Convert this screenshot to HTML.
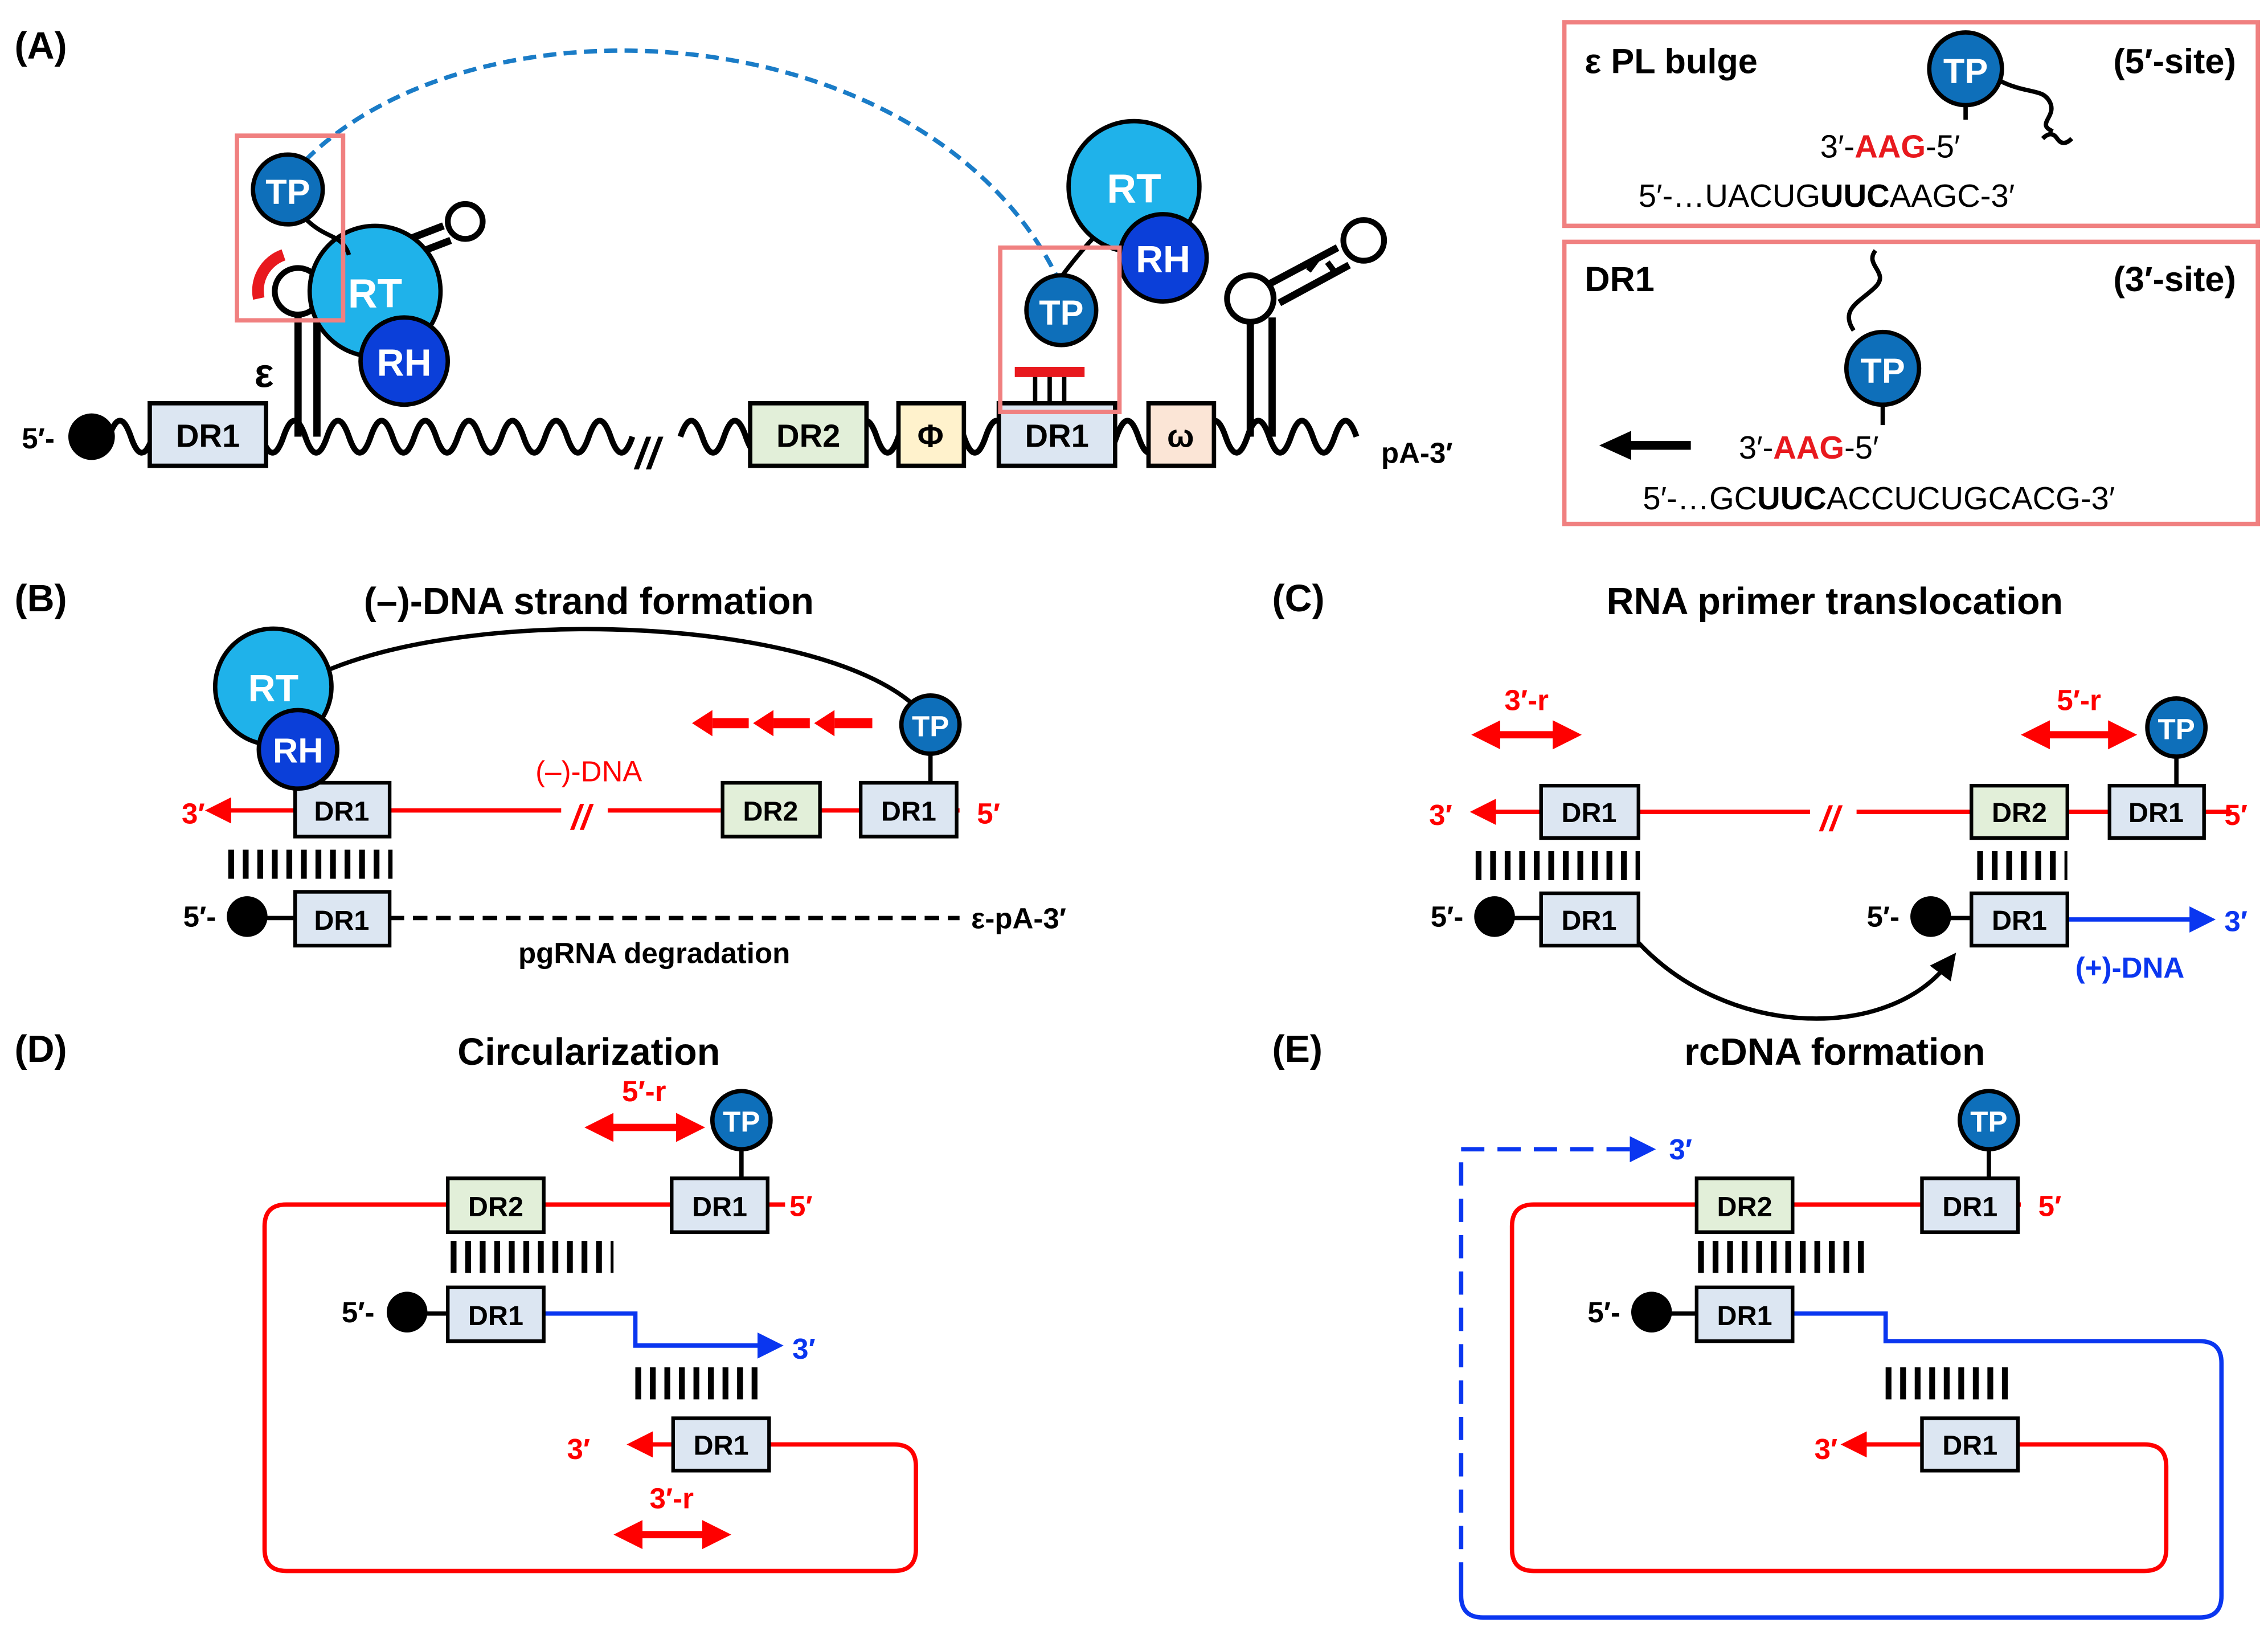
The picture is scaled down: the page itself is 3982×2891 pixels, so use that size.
<!DOCTYPE html>
<html><head><meta charset="utf-8"><style>
html,body{margin:0;padding:0;background:#fff}
svg{display:block}
text{font-family:"Liberation Sans",Arial,sans-serif}
.b{font-weight:bold}
</style></head><body>
<svg width="3982" height="2891" viewBox="0 0 1560 1132" xmlns="http://www.w3.org/2000/svg">
<defs>
<marker id="ar" markerWidth="6" markerHeight="6" refX="3" refY="3" orient="auto" markerUnits="strokeWidth"><path d="M0,0 L6,3 L0,6z" fill="red"/></marker>
<marker id="ab" markerWidth="6" markerHeight="6" refX="3" refY="3" orient="auto" markerUnits="strokeWidth"><path d="M0,0 L6,3 L0,6z" fill="#0a36f0"/></marker>
<marker id="ak" markerWidth="6" markerHeight="6" refX="3" refY="3" orient="auto" markerUnits="strokeWidth"><path d="M0,0 L6,3 L0,6z" fill="#000"/></marker>
<marker id="ar2" markerWidth="4" markerHeight="4" refX="2" refY="2" orient="auto-start-reverse" markerUnits="strokeWidth"><path d="M0,0 L4,2 L0,4z" fill="red"/></marker>
</defs>
<g font-weight="bold" font-size="26" fill="#000">
<text x="10" y="40">(A)</text><text x="10" y="420">(B)</text><text x="875" y="420">(C)</text>
<text x="10" y="730">(D)</text><text x="875" y="730">(E)</text>
<text x="405" y="422" text-anchor="middle">(–)-DNA strand formation</text>
<text x="1262" y="422" text-anchor="middle">RNA primer translocation</text>
<text x="405" y="732" text-anchor="middle">Circularization</text>
<text x="1262" y="732" text-anchor="middle">rcDNA formation</text>
</g>

<!-- Panel A -->
<path d="M210,110 C330,-10 640,10 728,192" fill="none" stroke="#1a7cc7" stroke-width="3" stroke-dasharray="9 5"/>
<path d="M75,300 q7.5,-22 15,0 t15,0 t15,0 t15,0 t15,0 t15,0 t15,0 t15,0 t15,0 t15,0 t15,0 t15,0 t15,0 t15,0 t15,0 t15,0 t15,0 t15,0 t15,0 t15,0 t15,0 t15,0 t15,0 t15,0" fill="none" stroke="#000" stroke-width="4"/>
<path d="M468,300 q7.5,-22 15,0 t15,0 t15,0 t15,0 t15,0 t15,0 t15,0 t15,0 t15,0 t15,0 t15,0 t15,0 t15,0 t15,0 t15,0 t15,0 t15,0 t15,0 t15,0 t15,0 t15,0 t15,0 t15,0 t15,0 t15,0 t15,0 t15,0 t15,0 t15,0 t15,0 t15,0" fill="none" stroke="#000" stroke-width="4"/>
<text x="437" y="322" font-size="30" font-weight="bold" font-style="italic">//</text>
<circle cx="63" cy="300" r="16" fill="#000"/>
<text x="15" y="308" font-size="20" class="b">5′-</text>
<text x="950" y="318" font-size="20" class="b">pA-3′</text>
<path d="M205,300 V215 M218,300 V215" stroke="#000" stroke-width="5"/>
<circle cx="205" cy="200" r="16" fill="#fff" stroke="#000" stroke-width="4"/>
<path d="M178,205 A26,26 0 0 1 195,175" fill="none" stroke="#e8191e" stroke-width="8"/>
<path d="M240,180 L305,155 M245,190 L310,165" stroke="#000" stroke-width="5"/>
<circle cx="320" cy="152" r="12" fill="#fff" stroke="#000" stroke-width="4"/>
<text x="175" y="266" font-size="28" class="b">ε</text>
<circle cx="258" cy="200" r="45" fill="#1fb2ea" stroke="#000" stroke-width="3"/>
<text x="258" y="211" font-size="28" fill="#fff" class="b" text-anchor="middle">RT</text>
<circle cx="278" cy="248" r="30" fill="#0b3fd9" stroke="#000" stroke-width="3"/>
<text x="278" y="258" font-size="26" fill="#fff" class="b" text-anchor="middle">RH</text>
<path d="M210,150 C225,165 235,160 240,175" fill="none" stroke="#000" stroke-width="3"/>
<circle cx="198" cy="130" r="24" fill="#0e6fba" stroke="#000" stroke-width="3"/>
<text x="198" y="140" font-size="24" fill="#fff" class="b" text-anchor="middle">TP</text>
<rect x="163" y="93" width="73" height="127" fill="none" stroke="#f08080" stroke-width="3"/>
<path d="M860,300 V218 M875,300 V218" stroke="#000" stroke-width="5"/>
<circle cx="860" cy="205" r="16" fill="#fff" stroke="#000" stroke-width="4"/>
<path d="M873,195 L920,170 M880,208 L928,182" stroke="#000" stroke-width="5"/>
<circle cx="938" cy="165" r="14" fill="#fff" stroke="#000" stroke-width="4"/>
<path d="M900,186 l6,-8 M913,180 l6,8" stroke="#000" stroke-width="4"/>
<g stroke="#000" stroke-width="3">
<rect x="103" y="277" width="80" height="43" fill="#dce6f2"/>
<rect x="516" y="277" width="80" height="43" fill="#e2efd9"/>
<rect x="618" y="277" width="45" height="43" fill="#fff2cc"/>
<rect x="687" y="277" width="80" height="43" fill="#dce6f2"/>
<rect x="790" y="277" width="45" height="43" fill="#fbe5d6"/>
</g>
<g font-size="22" class="b" text-anchor="middle">
<text x="143" y="307">DR1</text><text x="556" y="307">DR2</text><text x="640" y="307">Φ</text>
<text x="727" y="307">DR1</text><text x="812" y="307">ω</text></g>
<path d="M712,258 V277 M722,258 V277 M732,258 V277" stroke="#000" stroke-width="3"/>
<rect x="698" y="252" width="48" height="7" fill="#e8191e"/>
<path d="M730,190 C745,170 755,160 765,150" fill="none" stroke="#000" stroke-width="3"/>
<circle cx="780" cy="128" r="45" fill="#1fb2ea" stroke="#000" stroke-width="3"/>
<text x="780" y="139" font-size="28" fill="#fff" class="b" text-anchor="middle">RT</text>
<circle cx="800" cy="177" r="30" fill="#0b3fd9" stroke="#000" stroke-width="3"/>
<text x="800" y="187" font-size="26" fill="#fff" class="b" text-anchor="middle">RH</text>
<circle cx="730" cy="213" r="24" fill="#0e6fba" stroke="#000" stroke-width="3"/>
<text x="730" y="223" font-size="24" fill="#fff" class="b" text-anchor="middle">TP</text>
<rect x="688" y="170" width="82" height="113" fill="none" stroke="#f08080" stroke-width="3"/>

<rect x="1076" y="15" width="477" height="140" fill="none" stroke="#f08080" stroke-width="3"/>
<rect x="1076" y="166" width="477" height="194" fill="none" stroke="#f08080" stroke-width="3"/>
<text x="1090" y="50" font-size="24" class="b">ε PL bulge</text>
<text x="1538" y="50" font-size="24" class="b" text-anchor="end">(5′-site)</text>
<path d="M1352,70 V82" stroke="#000" stroke-width="3"/>
<path d="M1375,55 C1395,65 1405,60 1410,70 C1415,80 1400,85 1412,90" fill="none" stroke="#000" stroke-width="3"/>
<circle cx="1352" cy="47" r="25" fill="#0e6fba" stroke="#000" stroke-width="3"/>
<text x="1352" y="57" font-size="24" fill="#fff" class="b" text-anchor="middle">TP</text>
<text x="1252" y="108" font-size="22">3′-<tspan fill="#e8191e" class="b">AAG</tspan>-5′</text>
<path d="M1405,95 q6,-6 10,0 t10,0" fill="none" stroke="#000" stroke-width="3"/>
<text x="1127" y="142" font-size="22">5′-…UACUG<tspan class="b">UUC</tspan>AAGC-3′</text>
<text x="1090" y="200" font-size="24" class="b">DR1</text>
<text x="1538" y="200" font-size="24" class="b" text-anchor="end">(3′-site)</text>
<path d="M1290,172 c-8,10 10,15 0,25 c-10,10 -25,15 -15,30" fill="none" stroke="#000" stroke-width="3"/>
<path d="M1295,277 V292" stroke="#000" stroke-width="3"/>
<circle cx="1295" cy="253" r="25" fill="#0e6fba" stroke="#000" stroke-width="3"/>
<text x="1295" y="263" font-size="24" fill="#fff" class="b" text-anchor="middle">TP</text>
<path d="M1163,306 H1118" stroke="#000" stroke-width="6"/><path d="M1100,306 L1122,296 L1122,316z" fill="#000"/>
<text x="1196" y="315" font-size="22">3′-<tspan fill="#e8191e" class="b">AAG</tspan>-5′</text>
<text x="1130" y="350" font-size="22">5′-…GC<tspan class="b">UUC</tspan>ACCUCUGCACG-3′</text>

<!-- Panel B -->
<path d="M222,462 C330,415 560,425 628,484" fill="none" stroke="#000" stroke-width="3"/>
<path d="M660,557 H150" stroke="red" stroke-width="3" marker-end="url(#ar)"/>
<rect x="386" y="545" width="32" height="24" fill="#fff"/>
<text x="393" y="570" font-size="24" fill="red" class="b" font-style="italic">//</text>
<text x="405" y="537" font-size="20" fill="red" text-anchor="middle">(–)-DNA</text>
<text x="125" y="566" font-size="20" fill="red" class="b">3′</text>
<text x="672" y="566" font-size="20" fill="red" class="b">5′</text>
<g stroke="red" stroke-width="7"><path d="M515,497 H490 M557,497 H532 M600,497 H574"/></g>
<g fill="red"><path d="M476,497 l14,-9 v18z M518,497 l14,-9 v18z M560,497 l14,-9 v18z"/></g>
<path d="M640,515 V538" stroke="#000" stroke-width="3"/>
<circle cx="640" cy="498" r="20" fill="#0e6fba" stroke="#000" stroke-width="3"/>
<text x="640" y="506" font-size="20" fill="#fff" class="b" text-anchor="middle">TP</text>
<line x1="157" y1="594" x2="270" y2="594" stroke="#000" stroke-width="20" stroke-dasharray="4 6"/>
<circle cx="170" cy="630" r="14" fill="#000"/>
<text x="126" y="637" font-size="20" class="b">5′-</text>
<path d="M170,631 H203" stroke="#000" stroke-width="3"/>
<path d="M268,631 H660" stroke="#000" stroke-width="3" stroke-dasharray="10 6"/>
<text x="668" y="638" font-size="20" class="b">ε-pA-3′</text>
<text x="450" y="662" font-size="20" class="b" text-anchor="middle">pgRNA degradation</text>
<g stroke="#000" stroke-width="2.5">
<rect x="203" y="538" width="65" height="37" fill="#dce6f2"/>
<rect x="497" y="538" width="67" height="37" fill="#e2efd9"/>
<rect x="592" y="538" width="66" height="37" fill="#dce6f2"/>
<rect x="203" y="613" width="65" height="37" fill="#dce6f2"/></g>
<g font-size="19" class="b" text-anchor="middle"><text x="235" y="564">DR1</text><text x="530" y="564">DR2</text><text x="625" y="564">DR1</text><text x="235" y="639">DR1</text></g>
<circle cx="188" cy="472" r="40" fill="#1fb2ea" stroke="#000" stroke-width="3"/>
<text x="188" y="482" font-size="26" fill="#fff" class="b" text-anchor="middle">RT</text>
<circle cx="205" cy="515" r="27" fill="#0b3fd9" stroke="#000" stroke-width="3"/>
<text x="205" y="524" font-size="24" fill="#fff" class="b" text-anchor="middle">RH</text>

<!-- Panel C -->
<path d="M1535,558 H1020" stroke="red" stroke-width="3" marker-end="url(#ar)"/>
<rect x="1245" y="545" width="32" height="24" fill="#fff"/>
<text x="1252" y="571" font-size="24" fill="red" class="b" font-style="italic">//</text>
<text x="983" y="567" font-size="20" fill="red" class="b">3′</text>
<text x="1530" y="567" font-size="20" fill="red" class="b">5′</text>
<path d="M1022,505 H1078" stroke="red" stroke-width="5" marker-start="url(#ar2)" marker-end="url(#ar2)"/>
<text x="1050" y="488" font-size="20" fill="red" class="b" text-anchor="middle">3′-r</text>
<path d="M1400,505 H1460" stroke="red" stroke-width="5" marker-start="url(#ar2)" marker-end="url(#ar2)"/>
<text x="1430" y="488" font-size="20" fill="red" class="b" text-anchor="middle">5′-r</text>
<path d="M1497,517 V540" stroke="#000" stroke-width="3"/>
<circle cx="1497" cy="500" r="20" fill="#0e6fba" stroke="#000" stroke-width="3"/>
<text x="1497" y="508" font-size="20" fill="#fff" class="b" text-anchor="middle">TP</text>
<line x1="1015" y1="595" x2="1128" y2="595" stroke="#000" stroke-width="20" stroke-dasharray="4 6"/>
<line x1="1360" y1="595" x2="1422" y2="595" stroke="#000" stroke-width="20" stroke-dasharray="4 6"/>
<circle cx="1028" cy="630" r="14" fill="#000"/><text x="984" y="637" font-size="20" class="b">5′-</text>
<circle cx="1328" cy="630" r="14" fill="#000"/><text x="1284" y="637" font-size="20" class="b">5′-</text>
<path d="M1028,631 H1060 M1328,631 H1356" stroke="#000" stroke-width="3"/>
<path d="M1422,632 H1515" stroke="#0a36f0" stroke-width="3" marker-end="url(#ab)"/>
<text x="1530" y="640" font-size="20" fill="#0a36f0" class="b">3′</text>
<text x="1465" y="672" font-size="20" fill="#0a36f0" class="b" text-anchor="middle">(+)-DNA</text>
<path d="M1127,648 C1190,715 1300,715 1340,662" fill="none" stroke="#000" stroke-width="3" marker-end="url(#ak)"/>
<g stroke="#000" stroke-width="2.5">
<rect x="1060" y="540" width="67" height="36" fill="#dce6f2"/>
<rect x="1356" y="540" width="66" height="36" fill="#e2efd9"/>
<rect x="1451" y="540" width="65" height="36" fill="#dce6f2"/>
<rect x="1060" y="614" width="67" height="36" fill="#dce6f2"/>
<rect x="1356" y="614" width="66" height="36" fill="#dce6f2"/></g>
<g font-size="19" class="b" text-anchor="middle"><text x="1093" y="565">DR1</text><text x="1389" y="565">DR2</text><text x="1483" y="565">DR1</text><text x="1093" y="639">DR1</text><text x="1389" y="639">DR1</text></g>

<!-- Panel D -->
<path d="M540,828 H197 Q182,828 182,843 V1065 Q182,1080 197,1080 H615 Q630,1080 630,1065 V1008 Q630,993 615,993 H440" fill="none" stroke="red" stroke-width="3" marker-end="url(#ar)"/>
<text x="390" y="1003" font-size="20" fill="red" class="b">3′</text>
<text x="543" y="836" font-size="20" fill="red" class="b">5′</text>
<path d="M412,775 H475" stroke="red" stroke-width="5" marker-start="url(#ar2)" marker-end="url(#ar2)"/>
<text x="443" y="757" font-size="20" fill="red" class="b" text-anchor="middle">5′-r</text>
<path d="M432,1055 H493" stroke="red" stroke-width="5" marker-start="url(#ar2)" marker-end="url(#ar2)"/>
<text x="462" y="1037" font-size="20" fill="red" class="b" text-anchor="middle">3′-r</text>
<path d="M510,788 V810" stroke="#000" stroke-width="3"/>
<circle cx="510" cy="770" r="20" fill="#0e6fba" stroke="#000" stroke-width="3"/>
<text x="510" y="778" font-size="20" fill="#fff" class="b" text-anchor="middle">TP</text>
<line x1="310" y1="864" x2="422" y2="864" stroke="#000" stroke-width="22" stroke-dasharray="4 6"/>
<line x1="437" y1="951" x2="527" y2="951" stroke="#000" stroke-width="22" stroke-dasharray="4 6"/>
<circle cx="280" cy="902" r="14" fill="#000"/><text x="235" y="909" font-size="20" class="b">5′-</text>
<path d="M280,903 H308" stroke="#000" stroke-width="3"/>
<path d="M374,903 H437 V925 H530" fill="none" stroke="#0a36f0" stroke-width="3" marker-end="url(#ab)"/>
<text x="545" y="934" font-size="20" fill="#0a36f0" class="b">3′</text>
<g stroke="#000" stroke-width="2.5">
<rect x="308" y="810" width="66" height="37" fill="#e2efd9"/>
<rect x="462" y="810" width="66" height="37" fill="#dce6f2"/>
<rect x="308" y="885" width="66" height="37" fill="#dce6f2"/>
<rect x="463" y="975" width="66" height="36" fill="#dce6f2"/></g>
<g font-size="19" class="b" text-anchor="middle"><text x="341" y="836">DR2</text><text x="495" y="836">DR1</text><text x="341" y="911">DR1</text><text x="496" y="1000">DR1</text></g>

<!-- Panel E -->
<path d="M1005,1090 V790 H1130" fill="none" stroke="#0a36f0" stroke-width="3" stroke-dasharray="16 9" marker-end="url(#ab)"/>
<text x="1148" y="797" font-size="20" fill="#0a36f0" class="b">3′</text>
<path d="M1005,1090 V1097 Q1005,1112 1020,1112 H1513 Q1528,1112 1528,1097 V937 Q1528,922 1513,922 H1297 V903 H1233" fill="none" stroke="#0a36f0" stroke-width="3"/>
<path d="M1390,828 H1055 Q1040,828 1040,843 V1065 Q1040,1080 1055,1080 H1475 Q1490,1080 1490,1065 V1008 Q1490,993 1475,993 H1275" fill="none" stroke="red" stroke-width="3" marker-end="url(#ar)"/>
<text x="1248" y="1003" font-size="20" fill="red" class="b">3′</text>
<text x="1402" y="836" font-size="20" fill="red" class="b">5′</text>
<path d="M1368,788 V810" stroke="#000" stroke-width="3"/>
<circle cx="1368" cy="770" r="20" fill="#0e6fba" stroke="#000" stroke-width="3"/>
<text x="1368" y="778" font-size="20" fill="#fff" class="b" text-anchor="middle">TP</text>
<line x1="1168" y1="864" x2="1282" y2="864" stroke="#000" stroke-width="22" stroke-dasharray="4 6"/>
<line x1="1297" y1="951" x2="1387" y2="951" stroke="#000" stroke-width="22" stroke-dasharray="4 6"/>
<circle cx="1136" cy="902" r="14" fill="#000"/><text x="1092" y="909" font-size="20" class="b">5′-</text>
<path d="M1136,903 H1167" stroke="#000" stroke-width="3"/>
<g stroke="#000" stroke-width="2.5">
<rect x="1167" y="810" width="66" height="37" fill="#e2efd9"/>
<rect x="1322" y="810" width="66" height="37" fill="#dce6f2"/>
<rect x="1167" y="885" width="66" height="37" fill="#dce6f2"/>
<rect x="1322" y="975" width="66" height="36" fill="#dce6f2"/></g>
<g font-size="19" class="b" text-anchor="middle"><text x="1200" y="836">DR2</text><text x="1355" y="836">DR1</text><text x="1200" y="911">DR1</text><text x="1355" y="1000">DR1</text></g>
</svg>
</body></html>
